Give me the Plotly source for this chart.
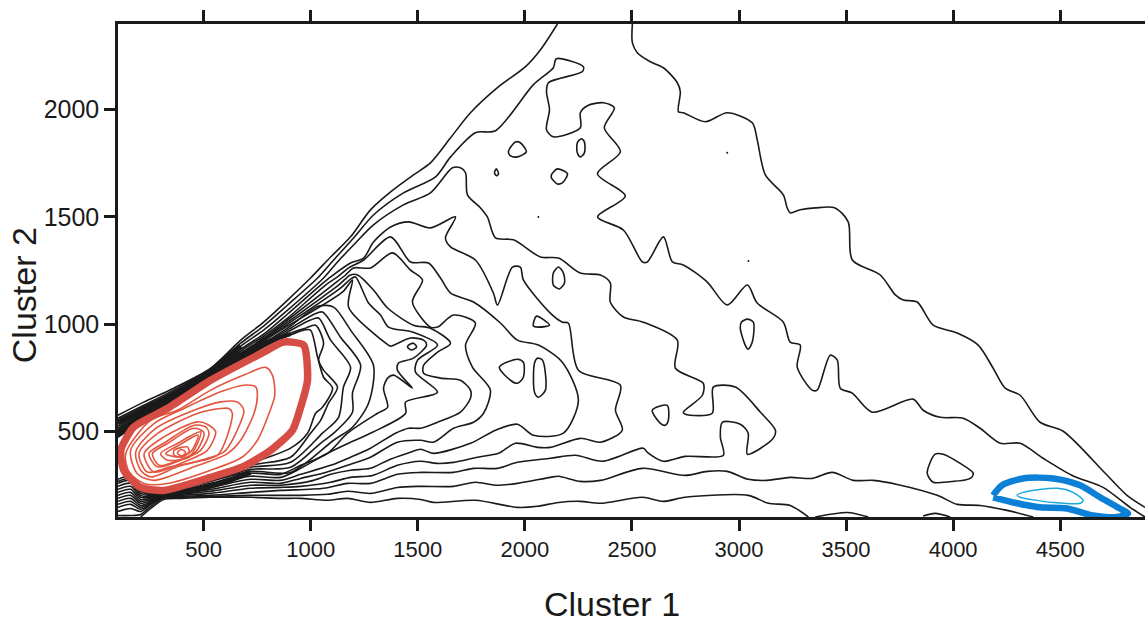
import plotly.graph_objects as go

# ---------- shared sampling positions (Cluster 1 values) ----------
band_x = [100, 220, 360, 533, 673, 780, 892]
lower_x = [719, 533, 393, 313, 253, 206, 159, 100]

# ---------- black contours ----------
c1_x = band_x + [999, 1093, 1186, 1279, 1373, 1480, 1559, 1653, 1746, 1872, 2003, 2073, 2152]
c1_y = [575, 636, 701, 794, 925, 1009, 1112, 1215, 1313, 1407, 1533, 1617, 1696, 1752, 1869, 1986, 2103, 2201, 2280, 2400]

c1b_x = [2502, 2502, 2525, 2586, 2647, 2712, 2726, 2717, 2740, 2843, 2945, 3062, 3085, 3123, 3207, 3225, 3239, 3286, 3356,
         3449, 3510, 3529, 3660, 3730, 3767, 3832, 3907, 4019, 4117, 4187, 4243, 4313, 4406, 4514, 4710, 4812, 4896]
c1b_y = [2400, 2313, 2266, 2224, 2196, 2126, 2084, 1991, 1986, 1944, 1986, 1939, 1860, 1696, 1603, 1542, 1519, 1533, 1542,
         1542, 1477, 1299, 1229, 1136, 1112, 1103, 995, 958, 902, 794, 701, 668, 542, 500, 304, 201, 145]

c2_x = band_x + [1032, 1107, 1200, 1293, 1433, 1583, 1653, 1769, 1863, 2040, 2133, 2147, 2273, 2269, 2110, 2101, 2115, 2101,
                 2133, 2259, 2259, 2292, 2367, 2418, 2371, 2446, 2339, 2469, 2339, 2460, 2549, 2572, 2647, 2689, 2740, 2852,
                 2945, 3039, 3085, 3207, 3239, 3286, 3272, 3342, 3365, 3426, 3459, 3473, 3529, 3622, 3813, 3860, 3940, 4047,
                 4126, 4220, 4313, 4420, 4556, 4700, 4826, 4896]
c2_y = [561, 621, 692, 790, 911, 991, 1089, 1215, 1299, 1402, 1509, 1612, 1687, 1780, 1893, 1902, 2117, 2196, 2238, 2201, 2178,
        2126, 2084, 2000, 1907, 1874, 1916, 1986, 2019, 2033, 2009, 1916, 1804, 1701, 1598, 1500, 1439, 1290, 1290, 1407,
        1290, 1276, 1196, 1089, 1182, 1098, 1009, 916, 902, 799, 692, 692, 855, 832, 701, 678, 589, 650, 598, 565, 561,
        514, 444, 444, 374, 294, 238, 145, 100]

c3_x = band_x + [1060, 1125, 1200, 1293, 1433, 1559, 1662, 1699, 1723, 1732, 1793, 1825, 1863, 1947, 2073, 2157, 2259, 2353,
                 2399, 2399, 2460, 2553, 2712, 2703, 2833, 2829, 2740, 2749, 2875, 2880, 2983, 3100, 3170, 3160, 3039, 3043,
                 3006, 2922, 2913, 2927, 2749, 2647, 2572, 2553, 2362, 2236, 2119, 1965, 1872, 1760, 1667, 1513, 1405, 1279,
                 1172, 1060, 859] + lower_x
c3_y = [547, 607, 682, 780, 897, 972, 1065, 1215, 1290, 1369, 1463, 1556, 1612, 1729, 1729, 1706, 1603, 1542, 1500, 1402, 1393,
        1313, 1308, 1238, 1229, 1192, 1103, 1033, 1009, 925, 794, 724, 668, 589, 579, 584, 706, 706, 589, 505, 467, 393,
        491, 533, 542, 472, 388, 383, 360, 402, 421, 360, 388, 374, 355, 327, 327, 308, 308, 299, 257, 257, 234, 224,
        215, 201, 196, 192, 159, 126, 140, 126]

c4_x = band_x + [1046, 1093, 1186, 1247, 1293, 1373, 1457, 1559, 1676, 1629, 1653, 1769, 1853, 1872, 1942, 1979, 1993, 2119,
                 2175, 2203, 2250, 2446, 2423, 2455, 2353, 2259, 2119, 2059, 1956, 1877, 1779, 1667, 1592, 1513, 1405, 1289,
                 1186, 1093, 953, 859] + lower_x
c4_y = [533, 598, 673, 776, 883, 953, 1047, 1182, 1220, 1285, 1308, 1383, 1453, 1477, 1449, 1500, 1402, 1360, 1299, 1145, 1089,
        1266, 1266, 1206, 1051, 1009, 1005, 785, 715, 598, 505, 449, 467, 425, 425, 444, 397, 379, 355, 350, 360, 341,
        294, 285, 262, 243, 238, 234, 210, 201, 196, 164, 136, 159, 145]

c5_x = band_x + [1069, 1125, 1177, 1247, 1373, 1466, 1550, 1606, 1653, 1760, 1886, 1965, 2063, 2175, 2250, 2180, 2040, 1965,
                 1863, 1746, 1573, 1513, 1452, 1359, 1279, 1186, 1093, 1013, 859] + lower_x
c5_y = [523, 593, 668, 771, 874, 944, 1028, 1182, 1220, 1262, 1299, 1407, 1290, 1285, 1215, 1145, 1103, 1005, 925, 902, 822, 645,
        491, 481, 533, 505, 444, 397, 416, 397, 364, 327, 318, 299, 271, 248, 248, 220, 206, 201, 168, 145, 173, 159]

c6_x = band_x + [1102, 1163, 1200, 1279, 1382, 1466, 1522, 1475, 1559, 1592, 1667, 1769, 1723, 1755, 1839, 1807, 1760, 1667,
                 1573, 1513, 1405, 1279, 1172, 1069, 953, 859] + lower_x
c6_y = [514, 589, 664, 769, 865, 935, 1019, 1182, 1229, 1262, 1262, 1332, 1252, 1206, 1103, 986, 986, 1042, 1005, 902, 799, 692,
        584, 542, 514, 449, 458, 449, 379, 341, 308, 280, 257, 262, 229, 210, 203, 173, 154, 187, 173]

s_x = band_x + [1130, 1186, 1219, 1293, 1359, 1480, 1559, 1653, 1592, 1527, 1527, 1606, 1699, 1746, 1746, 1699, 1592, 1513,
                1457, 1396, 1279, 1186, 1093, 953, 859] + lower_x
s_y = [505, 584, 659, 766, 860, 930, 1009, 1182, 1229, 1229, 1159, 1075, 995, 981, 911, 869, 808, 771, 748, 738, 692, 654, 589,
       542, 514, 514, 491, 421, 379, 341, 299, 271, 276, 238, 215, 206, 178, 164, 201, 187]

q_x = band_x + [1139, 1186, 1209, 1270, 1326, 1363, 1475, 1592, 1499, 1489, 1592, 1443, 1443, 1289, 1186, 1060, 953, 859] + lower_x
q_y = [500, 579, 654, 762, 855, 925, 1000, 1168, 1210, 1220, 1098, 1042, 986, 963, 902, 832, 776, 682, 636, 584, 495, 449, 388,
       327, 285, 290, 248, 220, 208, 182, 173, 215, 201]

p_x = band_x + [1149, 1195, 1177, 1363, 1373, 1466, 1527, 1541, 1480, 1410, 1405, 1475, 1387, 1359, 1340, 1359, 1312, 1172,
                1079, 953, 859] + lower_x
p_y = [495, 575, 650, 759, 850, 921, 991, 1150, 1206, 1079, 902, 897, 935, 925, 902, 841, 818, 785, 701, 762, 748, 701, 612, 584,
       491, 397, 341, 299, 304, 257, 224, 210, 187, 182, 229, 215]

r5_x = band_x + [1037, 1107, 1186, 1293, 1270, 1195, 1107, 906] + lower_x
r5_y = [491, 570, 645, 757, 846, 911, 981, 1084, 1079, 972, 808, 631, 519, 458, 308, 313, 266, 229, 213, 192, 192, 243, 229]

r4_x = band_x + [1018, 1055, 1139, 1233, 1195, 1195, 1107, 1046, 906] + lower_x
r4_y = [486, 565, 640, 755, 841, 907, 972, 1047, 1056, 939, 808, 678, 589, 491, 444, 332, 322, 271, 234, 215, 196, 201, 257, 243]

r3_x = band_x + [999, 1037, 1093, 1186, 1153, 1130, 1055, 906] + lower_x
r3_y = [481, 561, 636, 752, 836, 902, 963, 1019, 1028, 925, 799, 706, 565, 491, 355, 332, 276, 238, 220, 201, 210, 271, 257]

r2_x = band_x + [976, 1023, 1060, 1037, 1060, 1125, 1083, 1046, 999, 906] + lower_x
r2_y = [477, 556, 631, 750, 832, 897, 953, 981, 995, 911, 832, 785, 706, 631, 551, 491, 379, 341, 280, 243, 224, 206, 220, 280, 266]

r1_x = band_x + [967, 999, 1032, 1060, 1102, 1055, 1023, 985, 906] + lower_x
r1_y = [472, 551, 626, 748, 827, 893, 944, 972, 972, 846, 752, 701, 612, 584, 491, 421, 350, 285, 248, 224, 210, 229, 290, 276]

l1_x = [3324, 3239, 3137, 3043, 2749, 2647, 2549, 2353, 2259, 2157, 2059, 1965, 1769, 1573, 1513, 1405, 1279, 1172, 1079, 953, 859,
        719, 533, 393, 313, 253, 206]
l1_y = [100, 154, 164, 201, 192, 173, 192, 164, 173, 168, 150, 145, 178, 168, 182, 187, 168, 187, 178, 187, 187,
        192, 192, 187, 182, 140, 100]

l2_x = [4374, 4252, 4126, 4019, 3926, 3739, 3627, 3534, 3435, 3342, 3239, 3132, 3043, 2945, 2852, 2749, 2549, 2353, 2259, 2157, 2119,
        1965, 1863, 1769, 1667, 1513, 1405, 1279, 1172, 1079, 953, 859] + lower_x
l2_y = [100, 131, 154, 159, 201, 252, 271, 271, 308, 280, 285, 271, 276, 313, 313, 294, 327, 271, 266, 290, 285,
        257, 248, 262, 243, 243, 238, 210, 220, 206, 201, 201, 201, 196, 192, 187, 150, 112, 107, 107]

bump1_x = [3356, 3506, 3604]
bump1_y = [100, 121, 100]
bump2_x = [3860, 3916, 3986]
bump2_y = [105, 117, 100]

# ---------- the tightly packed contours along the two dense bands ----------
dense_a_x = [100, 220, 360, 533, 673]
dense_a_y = [542, 603, 673, 776, 897]
dense_b_x = [100, 220, 360, 533, 673]
dense_b_y = [495, 570, 645, 757, 860]
dense_c_x = [673, 780, 906]
dense_c_y = [855, 911, 953]
dense_d_x = [299, 439, 579, 719]
dense_d_y = [201, 224, 257, 308]

# ---------- closed black islands ----------
i1_x = [1923, 1956, 1979, 2007, 1965, 1933, 1923]
i1_y = [1804, 1850, 1846, 1804, 1780, 1785, 1804]
i2_x = [2245, 2264, 2278, 2278, 2259, 2245, 2245]
i2_y = [1846, 1865, 1850, 1799, 1780, 1799, 1846]
i3_x = [1867, 1877, 1867, 1858, 1867]
i3_y = [1724, 1701, 1692, 1706, 1724]
i4_x = [2124, 2152, 2199, 2175, 2152, 2124, 2124]
i4_y = [1696, 1724, 1701, 1659, 1654, 1682, 1696]
i5_x = [2157, 2180, 2185, 2161, 2133, 2133, 2157]
i5_y = [1266, 1238, 1192, 1164, 1182, 1238, 1266]
i6_x = [2040, 2054, 2115, 2063, 2040]
i6_y = [991, 1037, 995, 986, 991]
i7_x = [1881, 1965, 1993, 1993, 1965, 1933, 1881]
i7_y = [799, 836, 822, 752, 724, 738, 799]
i8_x = [2059, 2082, 2096, 2063, 2045, 2045, 2059]
i8_y = [841, 832, 692, 659, 682, 818, 841]
i9_x = [2595, 2665, 2670, 2656, 2633, 2595]
i9_y = [598, 621, 551, 528, 537, 598]
i10_x = [3011, 3039, 3067, 3062, 3043, 3029, 3006, 3011]
i10_y = [1009, 1023, 1009, 916, 883, 902, 981, 1009]
i11_x = [3879, 3916, 3954, 4033, 4094, 4080, 3954, 3907, 3879]
i11_y = [304, 393, 393, 350, 304, 280, 262, 262, 304]
i12_x = [1457, 1480, 1494, 1471, 1452, 1457]
i12_y = [902, 911, 893, 879, 893, 902]

dot_x = [2945, 2063, 3044]
dot_y = [1799, 1500, 1294]

# ---------- red contours ----------
red_x = [873, 967, 985, 953, 915, 813, 687, 533, 313, 206, 127, 113, 173, 332, 533, 780, 873]
red_y = [916, 902, 738, 612, 505, 411, 336, 285, 224, 238, 318, 411, 519, 607, 738, 869, 916]

r01_x = [790, 821, 832, 805, 751, 681, 533, 331, 222, 152, 136, 253, 377, 533, 688, 790]
r01_y = [798, 762, 668, 583, 458, 380, 318, 256, 256, 310, 396, 552, 598, 692, 762, 798]
r02_x = [743, 751, 735, 673, 611, 455, 268, 190, 159, 268, 408, 579, 688, 743]
r02_y = [707, 668, 583, 458, 396, 334, 271, 302, 411, 536, 606, 684, 715, 707]
r03_x = [681, 688, 642, 595, 377, 253, 206, 183, 276, 455, 579, 657, 681]
r03_y = [614, 591, 474, 404, 334, 287, 318, 404, 513, 598, 637, 637, 614]
r04_x = [618, 634, 603, 564, 346, 237, 198, 284, 471, 579, 618]
r04_y = [606, 583, 458, 388, 334, 310, 396, 489, 583, 606, 606]
r05_x = [525, 556, 517, 408, 268, 222, 315, 471, 525]
r05_y = [528, 497, 411, 357, 310, 396, 474, 544, 528]
r06_x = [509, 525, 486, 393, 284, 245, 323, 455, 509]
r06_y = [520, 489, 411, 365, 334, 396, 450, 528, 520]
r07_x = [489, 502, 463, 362, 292, 261, 331, 447, 489]
r07_y = [505, 489, 404, 357, 341, 396, 443, 513, 505]
r08_x = [486, 471, 432, 331, 299, 377, 486]
r08_y = [497, 443, 380, 365, 396, 443, 497]
r09_x = [474, 439, 377, 323, 385, 474]
r09_y = [482, 404, 380, 396, 435, 482]
r10_x = [424, 432, 401, 362, 362, 424]
r10_y = [427, 404, 380, 388, 411, 427]
r11_x = [396, 416, 396, 377, 396]
r11_y = [415, 401, 385, 399, 415]

# ---------- blue contours ----------
blue_x = [4187, 4229, 4327, 4467, 4593, 4686, 4794, 4817, 4766, 4654, 4532, 4406, 4299, 4187]
blue_y = [201, 248, 280, 280, 248, 192, 131, 117, 100, 107, 140, 145, 164, 192]
blue_in_x = [4299, 4327, 4486, 4560, 4607, 4593, 4467, 4313, 4299]
blue_in_y = [201, 215, 234, 215, 178, 164, 168, 192, 201]

# ---------- tick labels ----------
x_ticks = [500, 1000, 1500, 2000, 2500, 3000, 3500, 4000, 4500]
y_ticks = [500, 1000, 1500, 2000]

INK = "#1a1a1a"
fig = go.Figure()


def add(x, y, color=INK, width=1.6, smooth=0.8):
    fig.add_trace(go.Scatter(x=x, y=y, mode="lines", hoverinfo="skip", showlegend=False,
                             line=dict(color=color, width=width, shape="spline", smoothing=smooth)))


for xs, ys in [(c1_x, c1_y), (c1b_x, c1b_y), (c2_x, c2_y), (c3_x, c3_y), (c4_x, c4_y), (c5_x, c5_y), (c6_x, c6_y),
               (s_x, s_y), (q_x, q_y), (p_x, p_y), (r5_x, r5_y), (r4_x, r4_y), (r3_x, r3_y), (r2_x, r2_y), (r1_x, r1_y),
               (l1_x, l1_y), (l2_x, l2_y), (bump1_x, bump1_y), (bump2_x, bump2_y),
               (i1_x, i1_y), (i2_x, i2_y), (i3_x, i3_y), (i4_x, i4_y), (i5_x, i5_y), (i6_x, i6_y), (i7_x, i7_y),
               (i8_x, i8_y), (i9_x, i9_y), (i10_x, i10_y), (i11_x, i11_y), (i12_x, i12_y)]:
    add(xs, ys)

add(dense_a_x, dense_a_y, width=6)
add(dense_b_x, dense_b_y, width=6)
add(dense_c_x, dense_c_y, width=4)
add(dense_d_x, dense_d_y, width=5)

fig.add_trace(go.Scatter(x=dot_x, y=dot_y, mode="markers", hoverinfo="skip", showlegend=False,
                         marker=dict(color=INK, size=2)))

for xs, ys in [(r01_x, r01_y), (r02_x, r02_y), (r03_x, r03_y), (r04_x, r04_y), (r05_x, r05_y), (r06_x, r06_y),
               (r07_x, r07_y), (r08_x, r08_y), (r09_x, r09_y), (r10_x, r10_y), (r11_x, r11_y)]:
    add(xs, ys, color="#e2553f", width=1.6)
add(red_x, red_y, color="#d64d45", width=7.5, smooth=0.6)

add(blue_x, blue_y, color="#0b80d6", width=6.5)
add(blue_in_x, blue_in_y, color="#1fa8dd", width=1.5)

axis_common = dict(showgrid=False, zeroline=False, showline=True, linecolor=INK, linewidth=2.5,
                   ticks="outside", tickcolor=INK, tickwidth=2.5, ticklen=11)
fig.update_layout(
    width=1145, height=621, margin=dict(l=118, r=0, t=24, b=104),
    paper_bgcolor="white", plot_bgcolor="white", showlegend=False, hovermode=False,
    font=dict(family="Liberation Sans, Arial, sans-serif", color=INK),
    xaxis=dict(range=[100, 4896], tickvals=x_ticks, ticktext=[str(v) for v in x_ticks], mirror="ticks",
               tickfont=dict(size=22), **axis_common),
    yaxis=dict(range=[100, 2400], tickvals=y_ticks, ticktext=[str(v) for v in y_ticks],
               tickfont=dict(size=25), **axis_common),
    annotations=[
        dict(text="Cluster 1", xref="paper", yref="paper", x=0.481, y=-0.1765, showarrow=False,
             xanchor="center", yanchor="middle", font=dict(size=34, color=INK)),
        dict(text="Cluster 2", xref="paper", yref="paper", x=-0.0915, y=0.45, showarrow=False, textangle=-90,
             xanchor="center", yanchor="middle", font=dict(size=34, color=INK)),
    ],
)
fig.write_html("out.html", config={"displayModeBar": False},
               post_script="document.body.style.margin='0';")
